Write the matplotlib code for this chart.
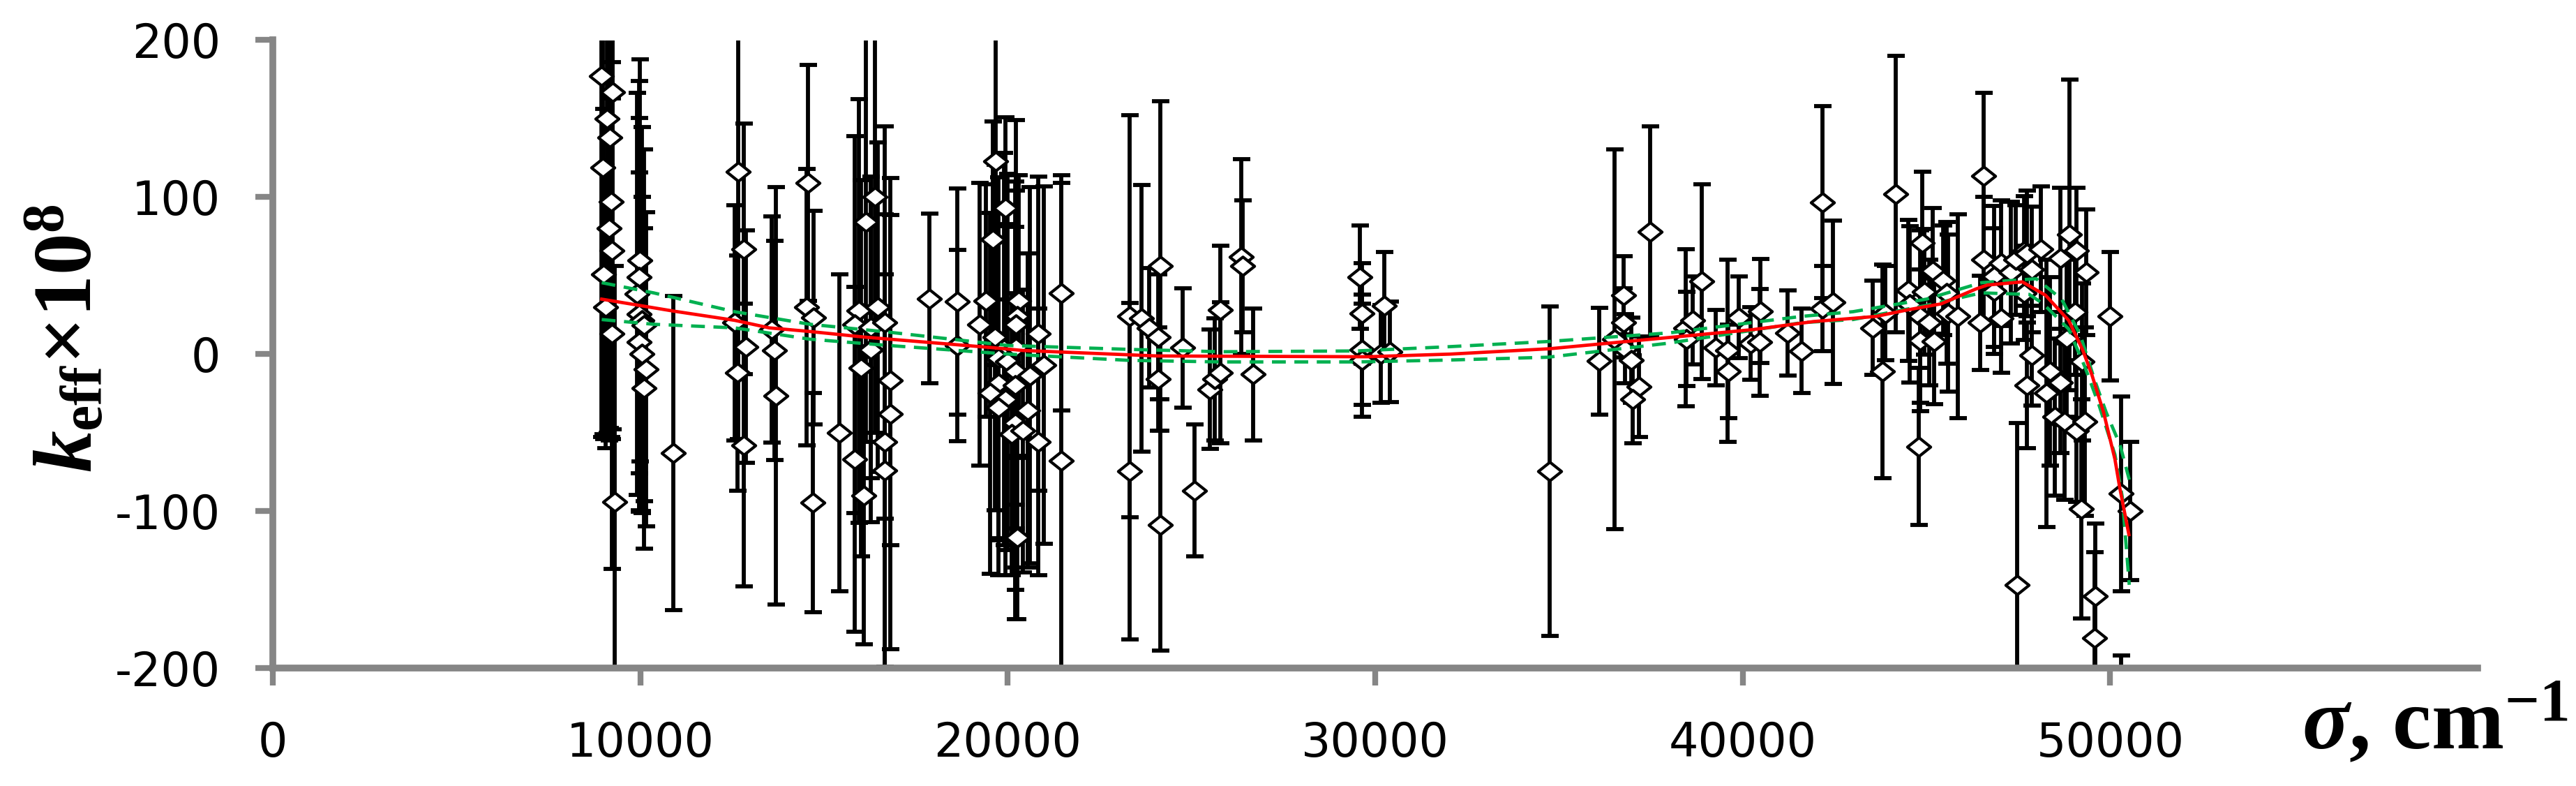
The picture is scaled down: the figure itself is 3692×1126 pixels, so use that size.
import matplotlib
matplotlib.use("Agg")
import matplotlib.pyplot as plt
from matplotlib.path import Path

# measured points: wavenumber (cm-1), k_eff*1e8, error
sigma = [
    # ~9000
    8950, 9250, 9180, 8980, 9200, 9230, 9000, 9220, 9300, 9100, 9150, 9050,
    # ~10000
    9990, 9975, 9910, 9975, 10040, 10100, 9975, 10040, 10160, 10100, 10890,
    # 12500-15500
    12656, 12810, 12570, 12880, 12650, 12810,
    13567, 13643, 13694,
    14557, 14525, 14720, 14690, 15410,
    # ~16000
    15940, 15840, 16000, 15840, 16090, 16130, 16380, 16470, 16280, 16280,
    16660, 16810, 16810, 16660, 16660,
    17870, 18630, 18630,
    # ~20000
    19680, 19940, 19590, 19400, 19240, 20290, 20250, 20220, 19650, 19900,
    20220, 19750, 20000, 20220, 20600, 20820, 20980, 19750, 20200, 19520,
    19940, 19750, 20540, 20200, 20100, 20410, 20820, 20250,
    21460, 21460,
    # 23000-30500
    23320, 23320, 23640, 23850, 24150, 24100, 24100, 24150,
    24750, 25090, 25500, 25630, 25790, 25790, 26360, 26390, 26670,
    29580, 29640, 29630, 29630, 30250, 30150, 30400,
    # 34000-42000
    34740, 36100, 36510, 36760, 36760, 36790, 36970, 37170, 37010, 37490,
    38450, 38630, 38470, 38880, 39260, 39580, 39610, 39890, 40210, 40490,
    40460, 41220, 41600,
    # 42000-48000
    42170, 42170, 42450, 43530, 43880, 43810, 44160, 44790, 44510, 44540,
    44890, 44820, 44950, 45170, 45450, 45070, 44820, 45200, 45550, 45580,
    45860, 46560, 46560, 46850, 47040, 47300, 47650, 47870, 47430, 46470,
    46850, 47040, 47650, 47870, 47740, 47460,
    # 47700-50600
    47740, 48110, 48650, 48900, 49090, 49350, 49050, 48810, 48370, 48650,
    48270, 48500, 48750, 49090, 49310, 49230, 49220, 49600, 49570, 50000,
    50290, 50540, 50290,
]
k_eff = [
    177, 167, 138, 119, 97, 66, 51, 13, -94, 150, 80, 30,
    59.6, 49, 38.5, 25.5, 21.5, 18.4, 7.6, 0.2, -9.7, -21.8, -63,
    116, 67, 20, 4.7, -12, -58,
    15.6, 2.3, -26.5,
    109, 30, 23.4, -94.6, -50,
    27.6, 18.7, -9, -67, -90, 84, 100, 30, 17, 3,
    20, -16.6, -38, -56, -74,
    35.4, 33.5, 5.5,
    123, 93, 73, 34, 19, 34, 24, 19, 10.6, 3.4,
    4, -2.5, -5, -11, -13.5, 13, -7, -18.5, -20, -25,
    -29, -34, -36, -44, -51, -49, -56, -117,
    39, -68,
    24, -74.6, 22.8, 16.7, 56, 11, -16, -109,
    4, -87, -22.5, -16, 28, -12, 62, 56, -13,
    49, 26, 2.8, -3.9, 31, 0.2, 1.5,
    -74.6, -4.4, 9.5, 37.5, 20, 3.4, -3.8, -20.7, -29, 78,
    16.7, 21.5, 9.5, 46.3, 4, 2.3, -11, 23.4, 6.8, 27.4,
    7.6, 13.5, 2,
    96.8, 29, 33, 16.7, 26, -11, 102, -59, 40.7, 31.7,
    71, 24, 39.6, 53, 47, 20, 8.7, 8, 39, 26,
    24, 113.6, 60, 49.6, 58, 52, 65.6, 54, 60, 20,
    40, 23, 39, -1, -20, -147,
    64, 67, 61, 76, 66, 52, 26.7, 10, -11, -18,
    -25, -40, -43, -49, -43, -5, -98.6, -154, -181, 24,
    -89, -100, -260,
]
k_err = [
    230, 215, 185, 170, 150, 120, 105, 150, 150, 200, 135, 90,
    128, 125, 128, 125, 123, 112, 108, 100, 100, 102, 100,
    170, 80, 75, 74, 75, 90,
    72, 70, 133,
    75, 88, 68, 70, 101,
    135, 120, 120, 110, 95, 140, 150, 105, 96, 110,
    125, 105, 150, 145, 125,
    54, 72, 61,
    130, 58, 75, 74, 90, 80, 90, 130, 110, 125,
    100, 115, 120, 125, 120, 100, 114, 100, 130, 115,
    112, 107, 100, 125, 90, 90, 85, 52,
    75, 177,
    128, 107, 85, 38, 105, 40, 33, 80,
    38, 42, 38, 39, 41, 45, 62, 42, 42,
    33, 32, 35, 36, 34, 31, 32,
    105, 34, 121, 25, 22, 22, 27, 32, 28, 67,
    50, 28, 30, 62, 24, 58, 30, 26, 23, 33,
    34, 27, 27,
    61, 27, 52, 30, 30, 68, 88, 50, 45, 50,
    45, 55, 40, 40, 35, 40, 45, 40, 45, 50,
    65, 53, 40, 45, 40, 45, 35, 40, 35, 30,
    40, 35, 30, 32, 40, 103,
    40, 40, 45, 99, 40, 40, 40, 50, 60, 45,
    85, 50, 50, 45, 60, 50, 70, 46, 55, 41,
    62, 44, 68,
]

# fitted curve and its confidence band
fit_x = [8950, 10900, 12570, 13510, 14610, 16110, 19530, 20410, 24080, 29770,
         32050, 34740, 36920, 38380, 40280, 41920, 43630, 44450, 45400, 46350,
         46660, 47610, 48240, 48870, 49250, 49500, 49820, 50130, 50260, 50510]
fit_y = [35, 27.4, 21.5, 16.7, 14.4, 10.8, 4.2, 2.3, -1.2, -1.7,
         0, 3.4, 8.2, 11.4, 15.6, 20.7, 24, 28, 32, 41.5,
         44, 46, 37.5, 21.5, 2.8, -13, -37, -67, -85, -115]

upper_x = [8950, 10360, 12570, 14610, 16750, 20000, 23300, 25800, 29500, 32000,
           34700, 38000, 41600, 43000, 45000, 46500, 47990, 48680, 49190, 49570,
           49890, 50270, 50520]
upper_y = [45.5, 39, 27, 19, 14, 5.5, 3, 1.5, 2, 4.7,
           8, 13.5, 24, 27, 35, 45.5, 48, 35, 12, -16,
           -37, -58, -80]
lower_x = [8950, 10360, 12570, 14610, 16750, 20000, 23300, 25800, 29500, 32000,
           34700, 38000, 41600, 43000, 45000, 46500, 47800, 48180, 48870, 49310,
           49690, 50130, 50330, 50520]
lower_y = [22, 19, 16.7, 9.5, 5.5, 0, -4, -5, -5, -3.8,
           -2, 7, 20, 22, 31, 39, 38, 32, 16, -8,
           -32, -64, -91, -147]

x_ticks = [0, 10000, 20000, 30000, 40000, 50000]
y_ticks = [-200, -100, 0, 100, 200]

plt.rcParams['axes.unicode_minus'] = False
plt.rcParams['mathtext.fontset'] = 'custom'
plt.rcParams['mathtext.rm'] = 'Liberation Serif:bold'
plt.rcParams['mathtext.bf'] = 'Liberation Serif:bold'
plt.rcParams['mathtext.it'] = 'Liberation Serif:italic:bold'

W, H = 3692, 1126
fig = plt.figure(figsize=(W / 100, H / 100), dpi=100)
ax = fig.add_axes([391 / W, 1 - 957 / H, (3551 - 391) / W, (957 - 57.5) / H])

grey = '#868686'

ax.errorbar(sigma, k_eff, yerr=k_err, fmt='none', ecolor='black',
            elinewidth=4.2, capsize=9, capthick=4.2, zorder=2)

diamond = Path([(-1, 0), (0, 0.8), (1, 0), (0, -0.8), (-1, 0)],
               [Path.MOVETO, Path.LINETO, Path.LINETO, Path.LINETO, Path.CLOSEPOLY])
ax.plot(sigma, k_eff, linestyle='none', marker=diamond, ms=24,
        mfc='white', mec='black', mew=3.0, zorder=3)

ax.plot(fit_x, fit_y, color='#FF0000', lw=3.4, zorder=5)
ax.plot(upper_x, upper_y, color='#00B050', lw=3.4, dashes=(4.2, 2.6), zorder=4)
ax.plot(lower_x, lower_y, color='#00B050', lw=3.4, dashes=(4.2, 2.6), zorder=4)

ax.set_xlim(0, 60000)
ax.set_ylim(-200, 200)
ax.set_xticks(x_ticks)
ax.set_yticks(y_ticks)

for s in ['top', 'right']:
    ax.spines[s].set_visible(False)
for s in ['left', 'bottom']:
    ax.spines[s].set_color(grey)
    ax.spines[s].set_linewidth(7)

ax.tick_params(axis='both', direction='out', length=18, width=6, color=grey,
               labelsize=48, pad=36)

fig.text(96 / W, 1 - 485 / H, r'$k_{\mathrm{eff}}$×10$^{8}$', rotation=90,
         ha='center', va='center', fontsize=86, family='Liberation Serif',
         weight='bold')
fig.text(3299 / W, 1 - 1072 / H, r'$\sigma$, cm$^{-1}$', ha='left',
         va='baseline', fontsize=90, family='Liberation Serif', weight='bold')

fig.savefig('out.png', dpi=100)
